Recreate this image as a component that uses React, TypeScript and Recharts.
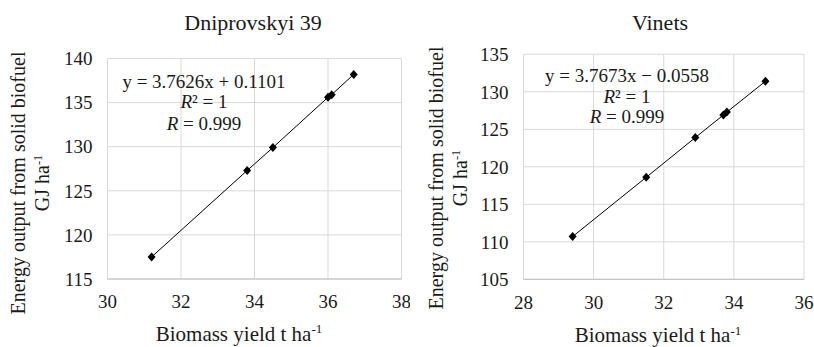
import React from 'react';
import { ScatterChart, Scatter, XAxis, YAxis, CartesianGrid } from 'recharts';

const dniproX = [31.2, 33.8, 34.5, 36.0, 36.1, 36.7];
const dniproY = [117.5, 127.3, 129.9, 135.6, 135.9, 138.2];
const vinetsX = [29.4, 31.5, 32.9, 33.7, 33.8, 34.9];
const vinetsY = [110.7, 118.6, 123.9, 126.9, 127.3, 131.4];

const dniproXTicks = [30, 32, 34, 36, 38];
const dniproYTicks = [115, 120, 125, 130, 135, 140];
const vinetsXTicks = [28, 30, 32, 34, 36];
const vinetsYTicks = [105, 110, 115, 120, 125, 130, 135];

const dniproTitle = 'Dniprovskyi 39';
const vinetsTitle = 'Vinets';
const dniproEq = 'y = 3.7626x + 0.1101';
const vinetsEq = 'y = 3.7673x \u2212 0.0558';
const r2Text = '\u00b2 = 1';
const rText = ' = 0.999';
const yLabel1 = 'Energy output from solid biofuel';
const yLabel2 = 'GJ ha';
const xLabel = 'Biomass yield t ha';
const unitSup = '-1';

const FONT = "'Liberation Serif', 'Times New Roman', serif";
const TXT = '#1a1a1a';
const GRID = '#d9d9d9';

const toPoints = (xs: number[], ys: number[]) => xs.map((x, i) => ({ x, y: ys[i] }));

const Diamond = (props: any) => {
  const { cx, cy } = props;
  if (cx == null || cy == null) return null;
  return <path d={`M${cx},${cy - 4.5}L${cx + 4},${cy}L${cx},${cy + 4.5}L${cx - 4},${cy}Z`} fill="#000" />;
};

// HTML text placed by its horizontal centre and baseline
const HText = ({ cx, baseline, size, children }: any) => {
  const w = 400;
  return (
    <div
      style={{
        position: 'absolute',
        left: cx - w / 2,
        top: baseline - 0.8375 * size,
        width: w,
        height: size,
        lineHeight: 1,
        fontSize: size,
        fontFamily: FONT,
        color: TXT,
        textAlign: 'center',
        whiteSpace: 'nowrap',
        pointerEvents: 'none',
      }}
    >
      {children}
    </div>
  );
};

// rotated (-90deg) HTML text placed by vertical centre and baseline x
const VText = ({ baselineX, cy, size, children }: any) => {
  const w = 400;
  const cxLine = baselineX - 0.3375 * size;
  return (
    <div
      style={{
        position: 'absolute',
        left: cxLine - w / 2,
        top: cy - size / 2,
        width: w,
        height: size,
        lineHeight: 1,
        fontSize: size,
        fontFamily: FONT,
        color: TXT,
        textAlign: 'center',
        whiteSpace: 'nowrap',
        transform: 'rotate(-90deg)',
        transformOrigin: 'center center',
        pointerEvents: 'none',
      }}
    >
      {children}
    </div>
  );
};

const Sup = ({ children }: any) => (
  <span style={{ fontSize: '0.62em', position: 'relative', top: '-0.6em' }}>{children}</span>
);

const Panel = (p: any) => {
  const data = toPoints(p.xs, p.ys);
  return (
    <div style={{ position: 'absolute', left: p.left, top: 0, width: p.width, height: 347 }}>
      <ScatterChart
        width={p.width}
        height={347}
        margin={{ top: p.plotTop, right: p.width - p.plotRight, bottom: 0, left: 0 }}
      >
        <CartesianGrid stroke={GRID} strokeWidth={1} />
        <XAxis
          type="number"
          dataKey="x"
          domain={[p.xTicks[0], p.xTicks[p.xTicks.length - 1]]}
          ticks={p.xTicks}
          height={347 - p.plotBottom}
          axisLine={{ stroke: '#bfbfbf' }}
          tickLine={false}
          tickSize={0}
          tickMargin={16}
          tick={{ fill: TXT, fontSize: 19, fontFamily: FONT }}
          interval={0}
        />
        <YAxis
          type="number"
          dataKey="y"
          domain={[p.yTicks[0], p.yTicks[p.yTicks.length - 1]]}
          ticks={p.yTicks}
          width={p.plotLeft}
          axisLine={false}
          tickLine={false}
          tickSize={0}
          tickMargin={15}
          tick={{ fill: TXT, fontSize: 19, fontFamily: FONT }}
          interval={0}
        />
        <Scatter
          data={data}
          fill="#000"
          line={{ stroke: '#000', strokeWidth: 1 }}
          lineType="joint"
          shape={<Diamond />}
          isAnimationActive={false}
        />
      </ScatterChart>
      <HText cx={p.titleX} baseline={p.titleY} size={22}>{p.title}</HText>
      <HText cx={p.eqX} baseline={p.eqY[0]} size={19}>{p.eq}</HText>
      <HText cx={p.eqX} baseline={p.eqY[1]} size={19}>
        <i>R</i>
        {r2Text}
      </HText>
      <HText cx={p.eqX} baseline={p.eqY[2]} size={19}>
        <i>R</i>
        {rText}
      </HText>
      <HText cx={p.xLabX} baseline={p.xLabY} size={21}>
        {xLabel}
        <Sup>{unitSup}</Sup>
      </HText>
      <VText baselineX={p.yLab1X} cy={p.yLabY} size={20}>{yLabel1}</VText>
      <VText baselineX={p.yLab2X} cy={p.yLabY} size={20}>
        {yLabel2}
        <Sup>{unitSup}</Sup>
      </VText>
    </div>
  );
};

export default function App() {
  return (
    <div style={{ position: 'absolute', left: 0, top: 0, width: 814, height: 347, background: '#fff' }}>
      <Panel
        left={0}
        width={410}
        xs={dniproX}
        ys={dniproY}
        xTicks={dniproXTicks}
        yTicks={dniproYTicks}
        title={dniproTitle}
        eq={dniproEq}
        plotLeft={107.5}
        plotRight={401.5}
        plotTop={58.5}
        plotBottom={279}
        titleX={253}
        titleY={30}
        eqX={204}
        eqY={[87.5, 108, 129.5]}
        xLabX={239}
        xLabY={341.5}
        yLab1X={25}
        yLab2X={48.5}
        yLabY={183}
      />
      <Panel
        left={410}
        width={404}
        xs={vinetsX}
        ys={vinetsY}
        xTicks={vinetsXTicks}
        yTicks={vinetsYTicks}
        title={vinetsTitle}
        eq={vinetsEq}
        plotLeft={113.5}
        plotRight={394}
        plotTop={54.3}
        plotBottom={279.3}
        titleX={250}
        titleY={30}
        eqX={217}
        eqY={[81.5, 103, 123]}
        xLabX={248}
        xLabY={343}
        yLab1X={33}
        yLab2X={56.5}
        yLabY={178}
      />
    </div>
  );
}
